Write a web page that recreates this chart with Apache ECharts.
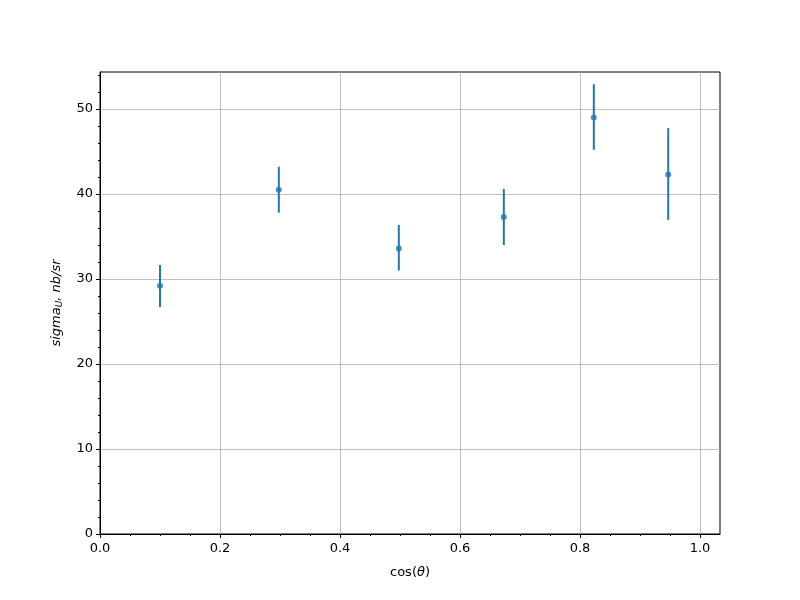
<!DOCTYPE html>
<html>
<head>
<meta charset="utf-8">
<script src="https://cdn.jsdelivr.net/npm/echarts@6/dist/echarts.min.js"></script>
<style>html,body{margin:0;padding:0;background:#fff}#c{width:800px;height:600px}</style>
</head>
<body>
<div id="c"></div>
<script>
var cosTheta = [0.100, 0.298, 0.498, 0.673, 0.823, 0.947];
var sigma    = [29.2, 40.5, 33.6, 37.3, 49.0, 42.3];
var errLow   = [26.7, 37.8, 31.0, 34.0, 45.2, 36.95];
var errHigh  = [31.65, 43.2, 36.35, 40.6, 52.9, 47.75];
var xTicks = [0.0, 0.2, 0.4, 0.6, 0.8, 1.0];
var yTicks = [0, 10, 20, 30, 40, 50];

var color = '#1f77b4';
var font = 'DejaVu Sans';
var chart = echarts.init(document.getElementById('c'), null, {renderer: 'canvas'});

var points = cosTheta.map(function (x, i) { return [x, sigma[i]]; });
var bars = cosTheta.map(function (x, i) { return [x, errLow[i], errHigh[i]]; });

chart.setOption({
  animation: false,
  backgroundColor: '#fff',
  grid: {left: 100, top: 72, width: 620, height: 462, show: true, borderColor: '#000', borderWidth: 1, backgroundColor: 'transparent'},
  xAxis: {
    type: 'value', min: 0, max: 1.0333, interval: 0.2,
    axisLine: {show: true, onZero: false, lineStyle: {color: '#000', width: 1}},
    axisTick: {show: true, length: 4, customValues: xTicks, lineStyle: {color: '#000'}},
    minorTick: {show: true, splitNumber: 4, length: 2, lineStyle: {color: '#000'}},
    splitLine: {show: true, lineStyle: {color: '#b0b0b0', width: 0.8}},
    axisLabel: {showMaxLabel: false, margin: 8, color: '#000', fontFamily: font, fontSize: 13,
      formatter: function (v) { return v.toFixed(1); }},
    name: 'cos({it|θ})', nameLocation: 'middle', nameGap: 32,
    nameTextStyle: {color: '#000', fontFamily: font, fontSize: 13,
      rich: {it: {fontStyle: 'italic', fontFamily: font, fontSize: 13, color: '#000'}}}
  },
  yAxis: {
    type: 'value', min: 0, max: 54.35, interval: 10,
    axisLine: {show: true, onZero: false, lineStyle: {color: '#000', width: 1}},
    axisTick: {show: true, length: 4, customValues: yTicks, lineStyle: {color: '#000'}},
    minorTick: {show: true, splitNumber: 5, length: 2, lineStyle: {color: '#000'}},
    splitLine: {show: true, lineStyle: {color: '#b0b0b0', width: 0.8}},
    axisLabel: {showMaxLabel: false, margin: 7, color: '#000', fontFamily: font, fontSize: 13},
    name: '{it|sigma}{sub|U}{it|, nb/sr}', nameLocation: 'middle', nameGap: 36, nameRotate: 90,
    nameTextStyle: {color: '#000', fontFamily: font, fontSize: 13,
      rich: {
        it: {fontStyle: 'italic', fontFamily: font, fontSize: 13, color: '#000'},
        sub: {fontStyle: 'italic', fontFamily: font, fontSize: 9, color: '#000', padding: [6, 0, 0, 0]}
      }}
  },
  series: [
    {
      type: 'custom',
      data: bars,
      encode: {x: 0, y: [1, 2]},
      renderItem: function (params, api) {
        var x = api.value(0);
        var p1 = api.coord([x, api.value(1)]);
        var p2 = api.coord([x, api.value(2)]);
        return {type: 'line', shape: {x1: p1[0], y1: p1[1], x2: p2[0], y2: p2[1]},
          style: {stroke: color, lineWidth: 2}};
      },
      z: 2
    },
    {
      type: 'scatter', data: points, symbol: 'circle', symbolSize: 6,
      itemStyle: {color: color}, z: 3
    }
  ]
});
</script>
</body>
</html>
